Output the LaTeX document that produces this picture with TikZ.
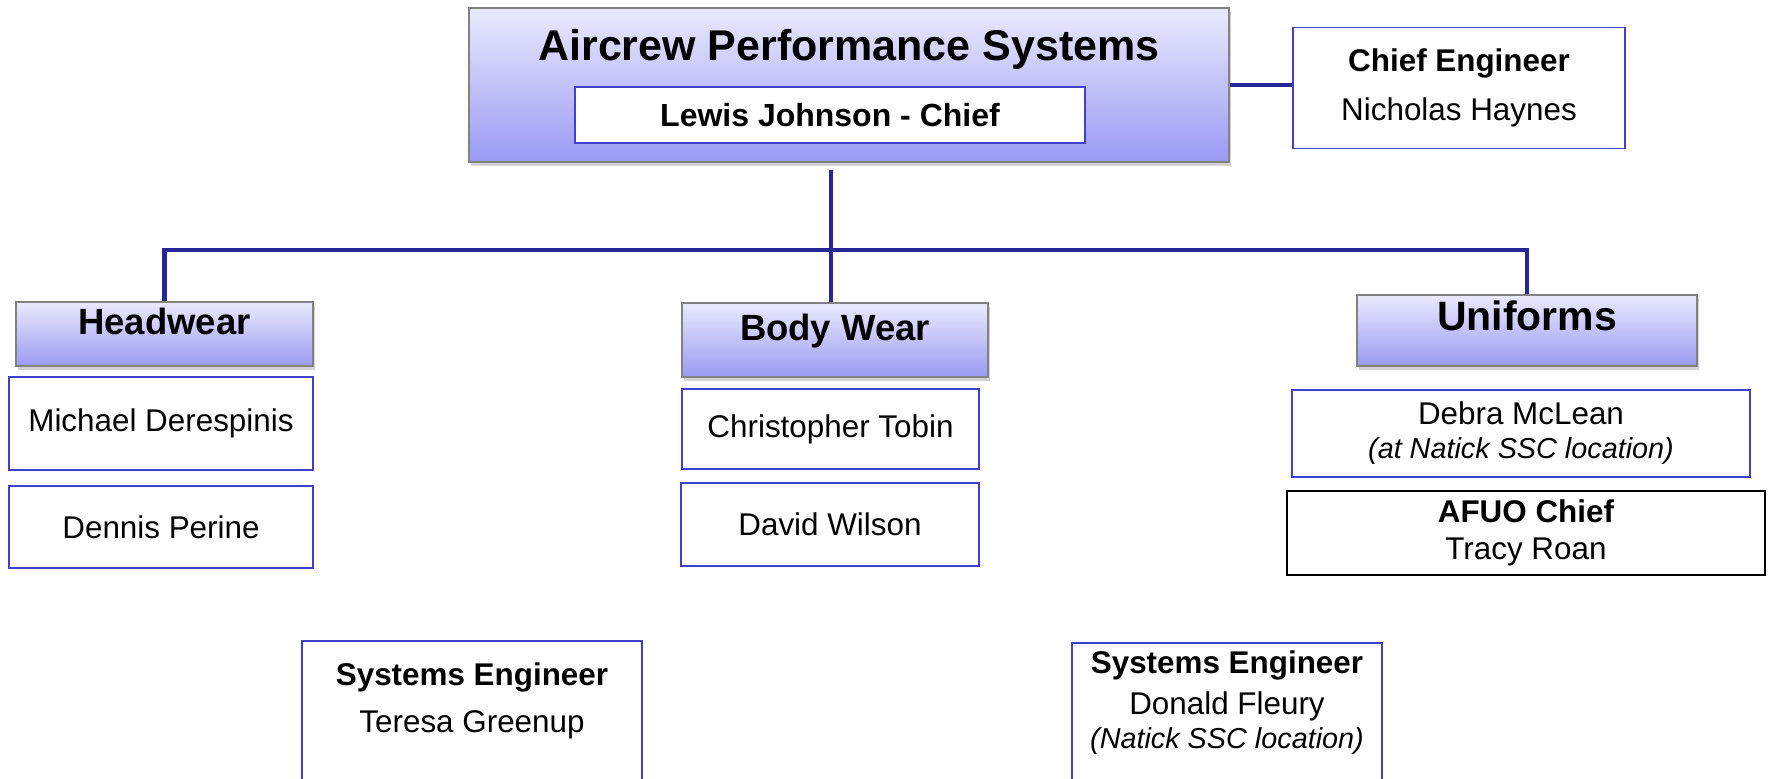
\documentclass[tikz,border=0pt]{standalone}
\usepackage{fontspec}
\setmainfont{Liberation Sans}
\usetikzlibrary{shadows}
\definecolor{linkblue}{RGB}{38,38,150}
\definecolor{boxblue}{RGB}{64,64,204}
\definecolor{headtop}{RGB}{234,234,253}
\definecolor{headbot}{RGB}{154,154,243}
\definecolor{headline}{RGB}{130,130,130}
\tikzset{
	headbox/.style={shape=rectangle,draw=headline,line width=0.8pt,top color=headtop,bottom color=headbot,
		drop shadow={shadow xshift=1.2pt,shadow yshift=-1.8pt,opacity=0.35},
		inner sep=0pt,text height=7pt,text depth=7pt,font=\bfseries\fontsize{18.25pt}{22pt}\selectfont},
	namebox/.style={shape=rectangle,draw=boxblue,line width=0.8pt,fill=white,inner sep=0pt,align=center,
		font=\fontsize{15.7pt}{19pt}\selectfont},
	link/.style={draw=linkblue,line width=2.4pt},
}
\newcommand{\note}[1]{{\itshape\fontsize{14.4pt}{17pt}\selectfont #1}}

\begin{document}
\begin{tikzpicture}[x=0.5pt,y=-0.5pt]
	\useasboundingbox (0,0) rectangle (1768,778);
	\fill[white] (0,0) rectangle (1768,778);
	\clip (0,0) rectangle (1768,778);

	\node[headbox,minimum width=380pt,minimum height=77pt] (apsys) at (849,85) {};
	\node[anchor=base,font=\bfseries\fontsize{21.5pt}{26pt}\selectfont] (aptitle) at (849,60) {Aircrew Performance Systems};
	\node[namebox,minimum width=255pt,minimum height=28pt,font=\bfseries\fontsize{16pt}{19pt}\selectfont] (lewis) at (830,115) {Lewis Johnson - Chief};
	\node[namebox,minimum width=166pt,minimum height=60.5pt,font=\fontsize{15.7pt}{24.5pt}\selectfont] (chiefeng) at (1459,88) {\textbf{Chief Engineer}\\Nicholas Haynes};

	\node[headbox,minimum width=148.5pt,minimum height=32pt] (headwear) at (164.5,334) {Headwear};
	\node[namebox,minimum width=152pt,minimum height=46.5pt] (derespinis) at (161,423.5) {Michael Derespinis};
	\node[namebox,minimum width=152pt,minimum height=41pt] (perine) at (161,527) {Dennis Perine};

	\node[headbox,minimum width=153pt,minimum height=37pt] (bodywear) at (835,340) {Body Wear};
	\node[namebox,minimum width=148.5pt,minimum height=40pt] (tobin) at (830.5,429) {Christopher Tobin};
	\node[namebox,minimum width=149pt,minimum height=41.5pt] (wilson) at (830,524.5) {David Wilson};

	\node[headbox,minimum width=170pt,minimum height=35.5pt,font=\bfseries\fontsize{20.5pt}{24pt}\selectfont] (uniforms) at (1527,330.5) {Uniforms};
	\node[namebox,minimum width=229pt,minimum height=43.5pt,font=\fontsize{15.7pt}{17pt}\selectfont] (mclean) at (1521,433.5) {Debra McLean\\\note{(at Natick SSC location)}};
	\node[namebox,draw=black,line width=1.1pt,minimum width=239pt,minimum height=42pt,font=\fontsize{15.7pt}{18.5pt}\selectfont] (roan) at (1526,533) {\textbf{AFUO Chief}\\Tracy Roan};

	\node[namebox,anchor=north,minimum width=170pt,inner ysep=11.2pt,font=\fontsize{15.7pt}{23.5pt}\selectfont] (greenup) at (472,640) {\textbf{Systems Engineer}\\Teresa Greenup\\\rule{0pt}{40pt}};
	\node[namebox,anchor=north,minimum width=155pt,inner ysep=4.2pt,font=\fontsize{15.7pt}{17pt}\selectfont] (fleury) at (1227,642) {\textbf{Systems Engineer}\\[3.5pt]Donald Fleury\\\note{(Natick SSC location)}\\\rule{0pt}{40pt}};

	\coordinate (hubtop) at (831,170);
	\coordinate (hub) at (831,250);
	\draw[link] (apsys.east) -- (apsys.east -| chiefeng.west);
	\draw[link] (hubtop) -- (hubtop |- bodywear.north);
	\draw[link] (headwear.north) |- (hub) -| (uniforms.north);
\end{tikzpicture}
\end{document}
